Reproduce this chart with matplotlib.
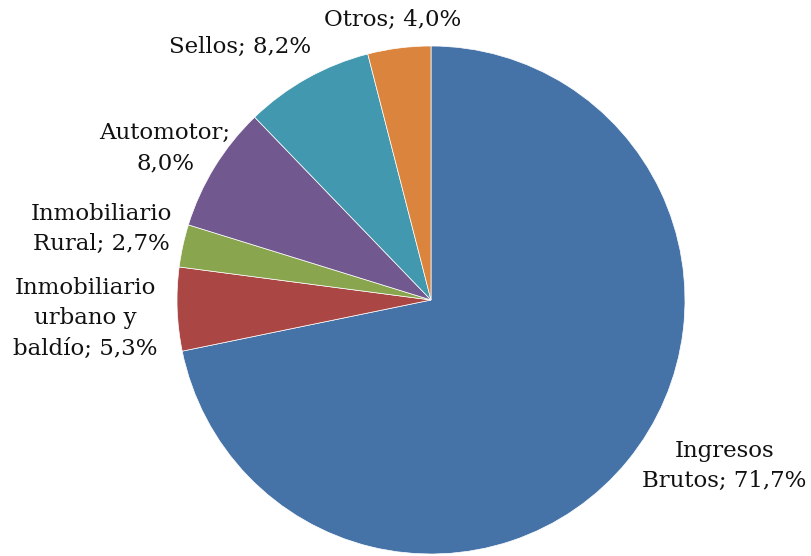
import matplotlib.pyplot as plt

# tax share by concept (percent)
categories = ['Ingresos\nBrutos', 'Inmobiliario\nurbano y\nbaldío', 'Inmobiliario\nRural',
              'Automotor', 'Sellos', 'Otros']
shares = [71.7, 5.3, 2.7, 8.0, 8.2, 4.0]
colors = ['#4572A7', '#AA4643', '#89A54E', '#71588F', '#4198AF', '#DB843D']

# label text layout: (x, y) in pie-radius units, plus separator between name and value
label_pos = [(1.154, -0.654), (-1.362, -0.071), (-1.299, 0.280),
             (-1.047, 0.598), (-0.752, 0.996), (-0.150, 1.102)]
label_sep = ['; ', '; ', '; ', ';\n', '; ', '; ']

fig = plt.figure(figsize=(8.12, 5.56), dpi=100)
ax = fig.add_axes([0, 0, 1, 1])

ax.pie(shares, colors=colors, startangle=90, counterclock=False, radius=1,
       wedgeprops={'edgecolor': 'white', 'linewidth': 0.5})

for cat, val, sep, (x, y) in zip(categories, shares, label_sep, label_pos):
    txt = cat + sep + '{:.1f}%'.format(val).replace('.', ',')
    ax.text(x, y, txt, ha='center', va='center', fontsize=16.5,
            family='DejaVu Serif', color='#111111', linespacing=1.5)

# pixel layout: pie centre at (431, 300), radius 254 px
ax.set_xlim(-431 / 254, (812 - 431) / 254)
ax.set_ylim(-(556 - 300) / 254, 300 / 254)
ax.set_aspect('equal')
ax.axis('off')

fig.savefig('out.png', dpi=100)
